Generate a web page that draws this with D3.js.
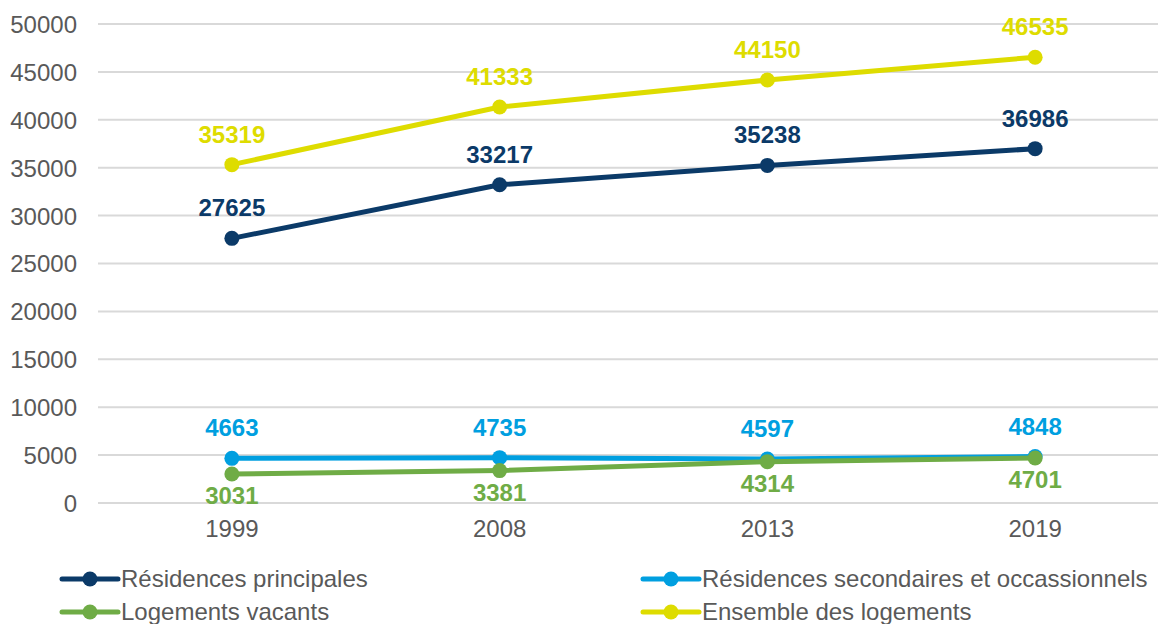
<!DOCTYPE html>
<html>
<head>
<meta charset="utf-8"/>
<script src="https://cdn.jsdelivr.net/npm/d3@7"></script>
<style>
  body { margin:0; background:#fff; }
  text { font-family: "Liberation Sans", Arial, sans-serif; }
  .tick text { fill:#595959; font-size:24px; }
  .lbl { font-weight:bold; font-size:24px; }
  .leg { fill:#595959; font-size:24px; }
</style>
</head>
<body>
<svg id="chart" width="1158" height="624"></svg>
<script>
var years = ["1999", "2008", "2013", "2019"];
var principales = [27625, 33217, 35238, 36986];
var secondaires = [4663, 4735, 4597, 4848];
var vacants = [3031, 3381, 4314, 4701];
var ensemble = [35319, 41333, 44150, 46535];
var yTicks = [0, 5000, 10000, 15000, 20000, 25000, 30000, 35000, 40000, 45000, 50000];

var series = [
  {name: "Résidences principales", values: principales, color: "#0b3a68", pos: "above"},
  {name: "Résidences secondaires et occassionnels", values: secondaires, color: "#009fe0", pos: "above"},
  {name: "Logements vacants", values: vacants, color: "#6fac46", pos: "below"},
  {name: "Ensemble des logements", values: ensemble, color: "#dedc00", pos: "above"}
];

var svg = d3.select("#chart");

var x = d3.scaleBand().domain(years).range([98, 1169]);
var y = d3.scaleLinear().domain([0, 50000]).range([503, 24]);

// grid
svg.append("g").selectAll("line").data(yTicks).enter().append("line")
  .attr("x1", 98).attr("x2", 1169)
  .attr("y1", function(d) { return y(d); }).attr("y2", function(d) { return y(d); })
  .style("stroke", "#d9d9d9").style("stroke-width", 2);

var yAxis = svg.append("g").attr("transform", "translate(98,0)")
  .call(d3.axisLeft(y).tickValues(yTicks).tickFormat(d3.format("d")).tickSize(0).tickPadding(21));
yAxis.select(".domain").remove();
yAxis.selectAll("text").attr("dy", "0.35em");

var xAxis = svg.append("g").attr("transform", "translate(0,503)")
  .call(d3.axisBottom(x).tickSize(0).tickPadding(17));
xAxis.select(".domain").remove();

var cx = function(i) { return x(years[i]) + x.bandwidth() / 2; };

var line = d3.line()
  .x(function(d, i) { return cx(i); })
  .y(function(d) { return y(d); });

series.forEach(function(s) {
  var g = svg.append("g");
  g.append("path").attr("d", line(s.values))
    .style("fill", "none").style("stroke", s.color).style("stroke-width", 5);
  g.selectAll("circle").data(s.values).enter().append("circle")
    .attr("cx", function(d, i) { return cx(i); })
    .attr("cy", function(d) { return y(d); })
    .attr("r", 7.5).style("fill", s.color);
  g.selectAll("text").data(s.values).enter().append("text")
    .attr("class", "lbl")
    .attr("x", function(d, i) { return cx(i); })
    .attr("y", function(d) { return s.pos == "above" ? y(d) - 22 : y(d) + 30; })
    .attr("text-anchor", "middle")
    .style("fill", s.color)
    .text(function(d) { return d; });
});

// legend
var legPos = [[62, 579], [643, 579], [62, 612], [643, 612]];
series.forEach(function(s, i) {
  var lx = legPos[i][0], ly = legPos[i][1];
  var lg = svg.append("g");
  lg.append("line").attr("x1", lx).attr("x2", lx + 56).attr("y1", ly).attr("y2", ly)
    .style("stroke", s.color).style("stroke-width", 5).style("stroke-linecap", "round");
  lg.append("circle").attr("cx", lx + 28).attr("cy", ly).attr("r", 7.5).style("fill", s.color);
  lg.append("text").attr("class", "leg").attr("x", lx + 59).attr("y", ly).attr("dy", "0.35em").text(s.name);
});
</script>
</body>
</html>
